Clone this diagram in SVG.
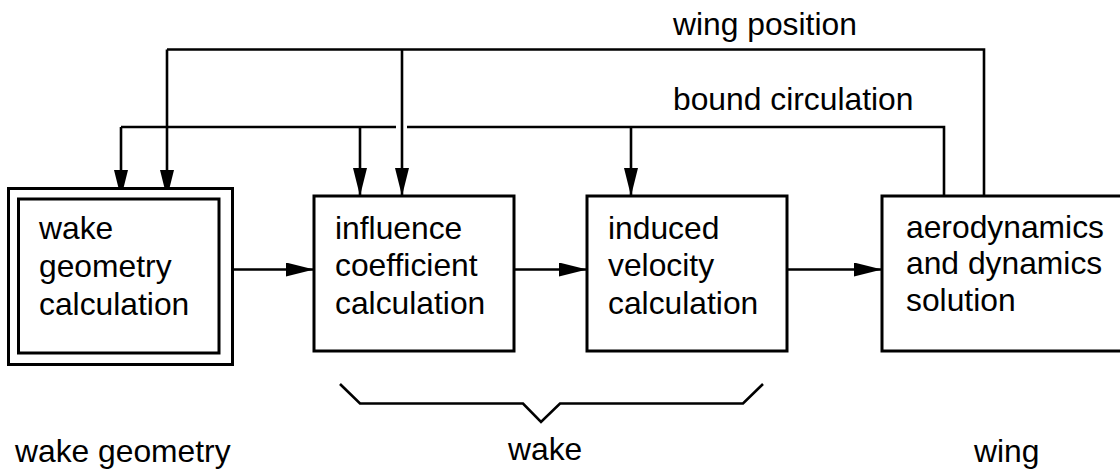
<svg xmlns="http://www.w3.org/2000/svg" width="1120" height="471" viewBox="0 0 1120 471">
<style>
.box{fill:#fff;stroke:#000;stroke-width:3}
.ln{fill:none;stroke:#000;stroke-width:2.6}
text{font-family:"Liberation Sans",Arial,sans-serif;font-size:31.8px;fill:#000}
</style>
<defs>
<marker id="ah" markerWidth="28" markerHeight="14" refX="28" refY="7" orient="auto" markerUnits="userSpaceOnUse">
<path d="M0,0 L28,7 L0,14 Z" fill="#000"/>
</marker>
</defs>
<rect width="1120" height="471" fill="#fff"/>
<g id="connectors">
<polyline class="ln" points="984,196 984,49.5 167,49.5" />
<line class="ln" x1="167" y1="49.5" x2="167" y2="198" marker-end="url(#ah)"/>
<line class="ln" x1="402" y1="49.5" x2="402" y2="196" marker-end="url(#ah)"/>
<polyline class="ln" points="944,196 944,127 407,127"/>
<polyline class="ln" points="396,127 121,127"/>
<line class="ln" x1="121" y1="127" x2="121" y2="198" marker-end="url(#ah)"/>
<line class="ln" x1="360" y1="127" x2="360" y2="196" marker-end="url(#ah)"/>
<line class="ln" x1="631" y1="127" x2="631" y2="196" marker-end="url(#ah)"/>
<line class="ln" x1="219" y1="269.5" x2="314" y2="269.5" marker-end="url(#ah)"/>
<line class="ln" x1="514" y1="269.5" x2="587" y2="269.5" marker-end="url(#ah)"/>
<line class="ln" x1="787" y1="269.5" x2="882" y2="269.5" marker-end="url(#ah)"/>
</g>
<g id="wake-geometry-node">
<rect class="box" x="8.5" y="188.5" width="224" height="176"/>
<rect class="box" x="18.5" y="199" width="200.5" height="154"/>
<text x="39" y="239">wake</text>
<text x="39" y="277">geometry</text>
<text x="39" y="315">calculation</text>
</g>
<g id="influence-node">
<rect class="box" x="314" y="196" width="200" height="155"/>
<text x="335" y="239">influence</text>
<text x="335" y="276">coefficient</text>
<text x="335" y="314">calculation</text>
</g>
<g id="induced-node">
<rect class="box" x="587" y="196" width="200" height="155"/>
<text x="608" y="239">induced</text>
<text x="608" y="276">velocity</text>
<text x="608" y="314">calculation</text>
</g>
<g id="aero-node">
<rect class="box" x="882" y="196" width="245" height="155"/>
<text x="906" y="238">aerodynamics</text>
<text x="906" y="274">and dynamics</text>
<text x="906" y="311">solution</text>
</g>
<g id="labels">
<text x="673" y="35">wing position</text>
<text x="673" y="110">bound circulation</text>
<polyline class="ln" points="340,384 360,403.5 523,403.5 541,422 560,403.5 743,403.5 763,384"/>
<text x="15" y="462">wake geometry</text>
<text x="508" y="460">wake</text>
<text x="974" y="462">wing</text>
</g>
</svg>
